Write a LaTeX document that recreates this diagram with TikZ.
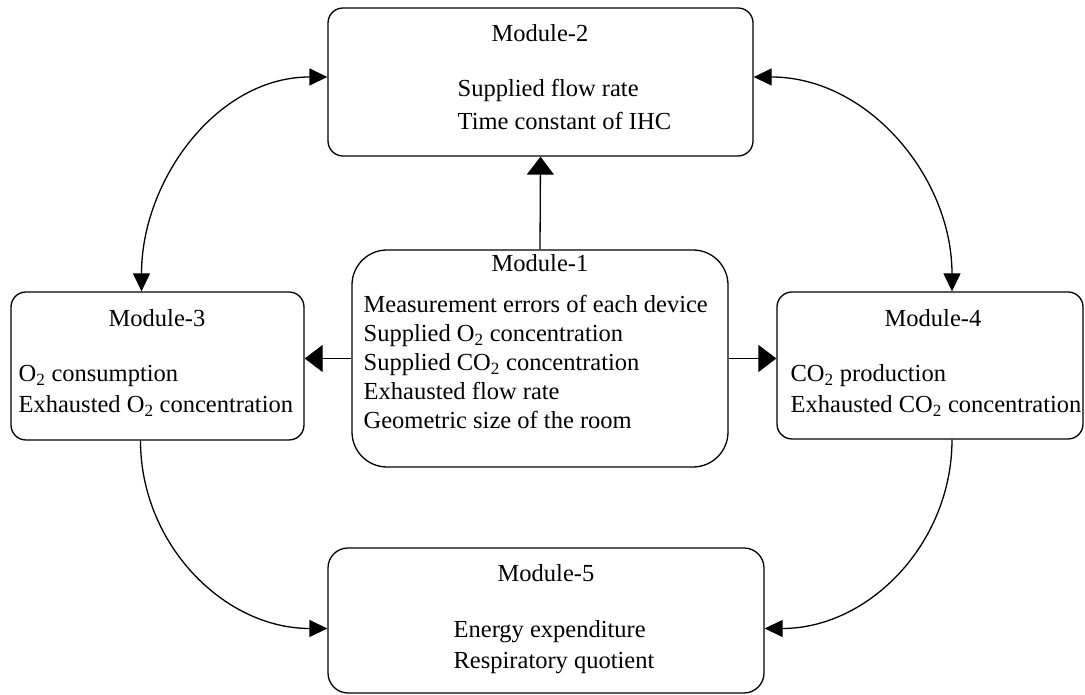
\documentclass[tikz,border=0pt]{standalone}
\usepackage{fontspec}
\setmainfont{Liberation Serif}
\usetikzlibrary{arrows.meta}

\begin{document}
\begin{tikzpicture}[x=1pt,y=1pt,line width=1.3pt,
  font=\fontsize{24.5}{29}\selectfont,
  module/.style={draw,rounded corners=15pt,inner sep=0pt},
  title/.style={anchor=base,inner sep=0pt},
  item/.style={anchor=base west,inner sep=0pt},
  bigtip/.style={-{Triangle[length=18pt,width=27pt]}},
  twotip/.style={{Triangle[length=18pt,width=17pt]}-{Triangle[length=18pt,width=17pt]}},
  onetip/.style={-{Triangle[length=18pt,width=17pt]}}]
\useasboundingbox (0,0) rectangle (1085,695);

% Boxes
\node[module,minimum width=376pt,minimum height=217pt,rounded corners=35pt] (m1) at (540,336.5) {};
\node[module,minimum width=425pt,minimum height=148pt] (m2) at (540.5,613) {};
\node[module,minimum width=293pt,minimum height=148pt] (m3) at (157.5,329) {};
\node[module,minimum width=306pt,minimum height=147pt] (m4) at (930,329.5) {};
\node[module,minimum width=436pt,minimum height=145pt,rounded corners=20pt] (m5) at (546,74.5) {};

% Module-1
\node[title] (t1) at (540,423) {Module-1};
\foreach \txt [count=\i] in {Measurement errors of each device,
    Supplied O\textsubscript{2} concentration,
    Supplied CO\textsubscript{2} concentration,
    Exhausted flow rate,
    Geometric size of the room}
  \node[item] (m1-\i) at (363,411-29*\i) {\txt};

% Module-2
\node[title] (t2) at (540,653) {Module-2};
\node[item] (m2-1) at (457,598) {Supplied flow rate};
\node[item] (m2-2) at (457,565) {Time constant of IHC};

% Module-3
\node[title] (t3) at (157,368) {Module-3};
\node[item] (m3-1) at (18,313) {O\textsubscript{2} consumption};
\node[item] (m3-2) at (18,282) {Exhausted O\textsubscript{2} concentration};

% Module-4
\node[title] (t4) at (933,368) {Module-4};
\node[item] (m4-1) at (790,313) {CO\textsubscript{2} production};
\node[item] (m4-2) at (790,282) {Exhausted CO\textsubscript{2} concentration};

% Module-5
\node[title] (t5) at (546,113) {Module-5};
\node[item] (m5-1) at (453,57) {Energy expenditure};
\node[item] (m5-2) at (453,26) {Respiratory quotient};

% Straight links out of Module-1
\draw[bigtip] (m1.north) -- (m2.south);
\draw[bigtip] (m1.west) -- (m1.west -| m3.east);
\draw[bigtip] (m1.east) -- (m1.east -| m4.west);

% Curved links
\draw[twotip] ([yshift=5pt]m2.west) to[out=180,in=90] ([xshift=-16pt]m3.north);
\draw[twotip] ([yshift=5pt]m2.east) to[out=0,in=90] ([xshift=22pt]m4.north);
\draw[onetip] ([xshift=-17pt]m3.south) to[out=-90,in=180] ([yshift=-8pt]m5.west);
\draw[onetip] ([xshift=22pt]m4.south) to[out=-90,in=0] ([yshift=-8pt]m5.east);
\end{tikzpicture}
\end{document}
